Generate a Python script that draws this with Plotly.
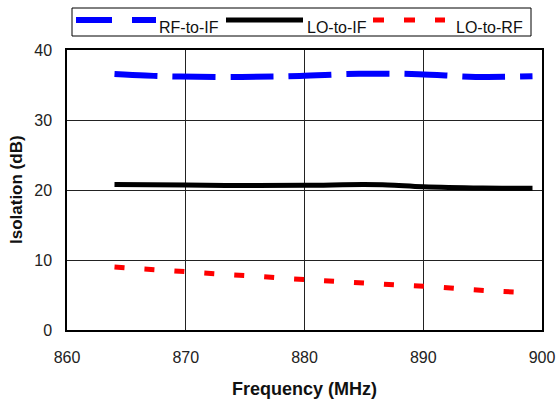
import plotly.graph_objects as go

# ---- data ----
rf_if_freq = [864, 866.6, 869.5, 874.7, 879.6, 884.6, 889.6, 894.4, 899.2]
rf_if_iso = [36.57, 36.35, 36.2, 36.14, 36.3, 36.6, 36.55, 36.16, 36.24]

lo_if_freq = [864, 870, 875, 880, 885, 887, 890, 895, 899.2]
lo_if_iso = [20.8, 20.7, 20.65, 20.67, 20.77, 20.72, 20.45, 20.27, 20.24]

lo_rf_freq = [864, 866.5, 869, 871.5, 874, 876.5, 879, 881.5, 884, 886.5, 889, 891.5, 894, 896.5, 899]
lo_rf_iso = [9.0, 8.7, 8.45, 8.15, 7.87, 7.62, 7.3, 7.05, 6.8, 6.57, 6.33, 6.1, 5.77, 5.52, 5.33]

x_ticks = [860, 870, 880, 890, 900]
y_ticks = [0, 10, 20, 30, 40]

series_names = ["RF-to-IF", "LO-to-IF", "LO-to-RF"]
x_title = "Frequency (MHz)"
y_title = "Isolation (dB)"

FONT = "Arial, Liberation Sans, sans-serif"

fig = go.Figure()
fig.add_trace(go.Scatter(x=rf_if_freq, y=rf_if_iso, mode="lines", name=series_names[0],
                         line=dict(color="#0000FF", width=6, dash="43px,15px", shape="spline")))
fig.add_trace(go.Scatter(x=lo_if_freq, y=lo_if_iso, mode="lines", name=series_names[1],
                         line=dict(color="#000000", width=5, shape="spline")))
fig.add_trace(go.Scatter(x=lo_rf_freq, y=lo_rf_iso, mode="lines", name=series_names[2],
                         line=dict(color="#FF0000", width=5, dash="10px,20px", shape="spline")))

W, H = 556, 400
L, T = 67, 50
R = W - 542
B = H - 330
pw, ph = W - L - R, H - T - B

def px(x):  # page pixel -> paper
    return (x - L) / pw

def py(y):
    return (H - B - y) / ph

shapes = []
annotations = []
# legend box
shapes.append(dict(type="rect", xref="paper", yref="paper", x0=px(72), x1=px(531), y0=py(36), y1=py(8),
                   line=dict(color="black", width=1), fillcolor="white"))
legend_items = [
    (76, 156, 157, "#0000FF", 6, "36px,20px"),
    (226, 303, 305, "#000000", 5, "solid"),
    (373, 445, 454, "#FF0000", 5, "11px,20px"),
]
for (x0, x1, tx, col, w, dash), name in zip(legend_items, series_names):
    shapes.append(dict(type="line", xref="paper", yref="paper", x0=px(x0), x1=px(x1), y0=py(20), y1=py(20),
                       line=dict(color=col, width=w, dash=dash)))
    annotations.append(dict(text=name, xref="paper", yref="paper", x=px(tx), y=py(27), xanchor="left",
                            yanchor="middle", showarrow=False, font=dict(family=FONT, size=16, color="#111")))

# axis titles
annotations.append(dict(text="<b>%s</b>" % x_title, xref="paper", yref="paper", x=px(304.5), y=py(389),
                        xanchor="center", yanchor="middle", showarrow=False,
                        font=dict(family=FONT, size=18, color="#111")))
annotations.append(dict(text="<b>%s</b>" % y_title, xref="paper", yref="paper", x=px(16), y=py(190),
                        xanchor="center", yanchor="middle", showarrow=False, textangle=-90,
                        font=dict(family=FONT, size=17, color="#111")))

fig.update_layout(
    width=W, height=H,
    margin=dict(l=L, r=R, t=T, b=B, autoexpand=False),
    paper_bgcolor="white", plot_bgcolor="white",
    showlegend=False,
    font=dict(family=FONT, size=16, color="#222"),
    shapes=shapes,
    annotations=annotations,
)
fig.update_xaxes(range=[860, 900], tickvals=x_ticks, ticks="", showgrid=True, gridcolor="#222", gridwidth=1,
                 showline=True, linecolor="black", linewidth=1.5, mirror=True, zeroline=False,
                 ticklabelstandoff=12, automargin=False, ticklabeloverflow="allow")
fig.update_yaxes(range=[0, 40], tickvals=y_ticks, ticks="", showgrid=True, gridcolor="#222", gridwidth=1,
                 showline=True, linecolor="black", linewidth=1.5, mirror=True, zeroline=False,
                 ticklabelstandoff=10, automargin=False)

fig.write_html("out.html", config={"displayModeBar": False},
               post_script="document.body.style.margin='0';document.body.style.overflow='hidden';")
